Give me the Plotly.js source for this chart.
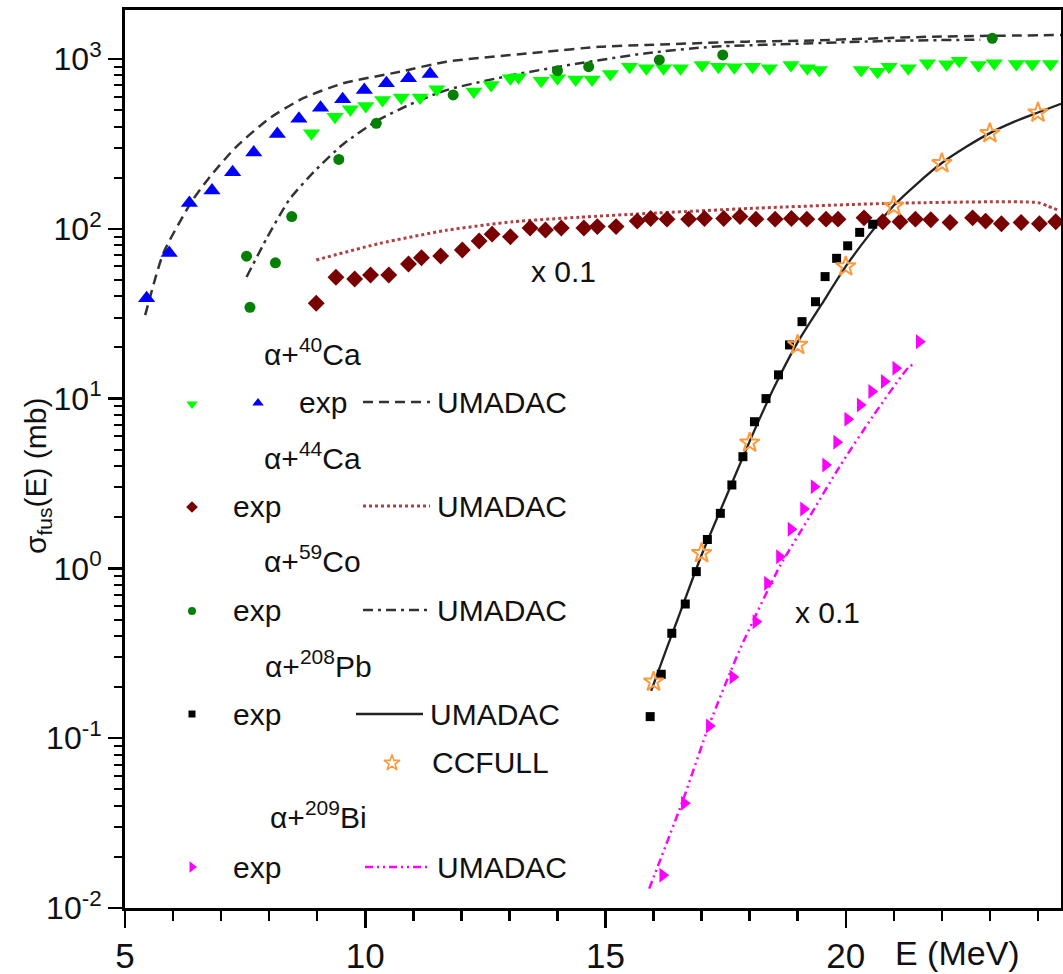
<!DOCTYPE html>
<html><head><meta charset="utf-8">
<script src="https://cdn.plot.ly/plotly-3.0.1.min.js"></script>
<style>html,body{margin:0;padding:0;background:#fff;} #chart{width:1063px;height:974px;}</style>
</head><body><div id="chart"></div>
<script>
// ---------------- DATA ----------------
// alpha + 40Ca (exp, two data sets) and UMADAC
const ca40ExpDownE = [8.88, 9.37, 9.69, 10.01, 10.36, 10.75, 11.14, 11.49, 12.26, 12.62, 13.02, 13.19, 13.66, 14.0, 14.38, 14.72, 15.1, 15.5, 15.85, 16.21, 16.56, 17.01, 17.35, 17.68, 18.06, 18.41, 18.86, 19.2, 19.45, 20.32, 20.66, 20.9, 21.3, 21.7, 22.1, 22.36, 22.76, 23.09, 23.55, 23.88, 24.26];
const ca40ExpDownS = [365, 457, 506, 528, 573, 594, 594, 664, 643, 703, 770, 780, 745, 770, 758, 758, 816, 901, 881, 881, 881, 922, 901, 893, 901, 881, 922, 881, 861, 861, 841, 901, 881, 944, 931, 977, 922, 944, 935, 935, 935];
const ca40ExpUpE = [5.45, 5.92, 6.34, 6.81, 7.24, 7.68, 8.17, 8.62, 9.07, 9.53, 9.98, 10.44, 10.9, 11.35];
const ca40ExpUpS = [39, 72, 142, 168, 215, 281, 362, 444, 517, 579, 656, 720, 770, 816];
const ca40ThE = [5.42, 5.8, 6.39, 6.77, 7.32, 8.01, 8.71, 9.54, 10.72, 11.69, 13.77, 14.88, 15.85, 17.93, 19.04, 21.8, 24.48];
const ca40ThS = [31, 72, 145, 203, 305, 448, 588, 719, 841, 964, 1104, 1181, 1209, 1265, 1280, 1353, 1384];

// alpha + 44Ca (values x 0.1)
const ca44ExpE = [8.98, 9.39, 9.78, 10.11, 10.49, 10.9, 11.17, 11.57, 12.02, 12.37, 12.64, 13.02, 13.43, 13.75, 14.08, 14.55, 14.83, 15.22, 15.66, 15.94, 16.28, 16.73, 17.06, 17.46, 17.8, 18.13, 18.53, 18.87, 19.19, 19.59, 19.84, 20.38, 20.77, 21.13, 21.45, 21.77, 22.17, 22.64, 22.91, 23.24, 23.65, 24.03, 24.37];
const ca44ExpS = [36.4, 51.8, 50.6, 53.5, 53.5, 62, 67.6, 69.2, 75, 84.7, 93, 89.8, 101, 98.4, 101, 101, 103, 103, 111, 115, 114, 114, 115, 115, 118, 114, 114, 115, 114, 114, 114, 116, 110, 110, 114, 113, 109, 116, 111, 107, 109, 107, 110];
const ca44ThE = [8.98, 10.3, 11.69, 13.07, 14.46, 15.85, 18.06, 20.83, 24.0, 24.2, 24.45];
const ca44ThS = [65.5, 82, 98, 110, 117, 123, 132, 141, 142.6, 136, 128];

// alpha + 59Co
const co59ExpE = [7.53, 7.60, 8.13, 8.47, 9.45, 10.23, 11.83, 14.0, 14.65, 16.12, 17.44, 23.05];
const co59ExpS = [69, 34.5, 63, 118, 256, 418, 614, 854, 901, 987, 1056, 1324];
const co59ThE = [7.53, 7.95, 8.43, 8.99, 9.54, 10.23, 10.93, 11.69, 13.07, 14.46, 15.85, 17.23, 19.04, 21.0, 22.8];
const co59ThS = [52, 88, 150, 225, 315, 430, 540, 656, 805, 944, 1081, 1181, 1230, 1280, 1300];

// alpha + 208Pb
const pb208ExpE = [15.93, 16.16, 16.38, 16.66, 16.89, 17.12, 17.39, 17.63, 17.86, 18.1, 18.34, 18.6, 18.83, 19.09, 19.37, 19.57, 19.81, 20.04, 20.29, 20.56];
const pb208ExpS = [0.134, 0.238, 0.415, 0.617, 0.957, 1.48, 2.11, 3.1, 4.55, 7.31, 10.0, 13.8, 20.7, 28.4, 37.2, 52.3, 67, 79.4, 95.3, 106.4];
const pb208ThE = [15.95, 16.26, 16.5, 17.0, 17.5, 18.0, 18.5, 19.0, 19.5, 20.0, 20.5, 21.0, 21.5, 22.0, 22.5, 23.0, 23.5, 24.0, 24.48];
const pb208ThS = [0.19, 0.33, 0.5, 1.2, 2.6, 5.6, 11.5, 21.5, 36, 60, 93, 137, 186, 244, 303, 366, 426, 484, 545];
const pb208CcE = [16, 17, 18, 19, 20, 21, 22, 23, 24];
const pb208CcS = [0.215, 1.23, 5.5, 20.7, 60, 136, 243, 365, 483];

// alpha + 209Bi (values x 0.1)
const bi209ExpE = [16.19, 16.64, 17.16, 17.65, 18.13, 18.37, 18.62, 18.86, 19.12, 19.34, 19.58, 19.81, 20.04, 20.3, 20.54, 20.8, 21.04, 21.53];
const bi209ExpS = [0.0156, 0.0414, 0.118, 0.229, 0.485, 0.817, 1.17, 1.70, 2.24, 3.03, 4.06, 5.53, 7.55, 9.17, 11.0, 12.6, 15.1, 21.6];
const bi209ThE = [15.91, 16.61, 17.16, 17.79, 18.62, 19.24, 19.87, 20.56, 21.32, 21.46];
const bi209ThS = [0.013, 0.043, 0.12, 0.33, 1.02, 2.0, 3.97, 7.83, 15.4, 16.1];

// ticks
const xTickVals = [5, 10, 15, 20];
const xTickText = ['5', '10', '15', '20'];
const yTickVals = [0.01, 0.1, 1, 10, 100, 1000];
const yTickText = ['10<sup>-2</sup>', '10<sup>-1</sup>', '10<sup>0</sup>', '10<sup>1</sup>', '10<sup>2</sup>', '10<sup>3</sup>'];

// texts
const reactionLabels = ['α+<sup>40</sup>Ca', 'α+<sup>44</sup>Ca', 'α+<sup>59</sup>Co', 'α+<sup>208</sup>Pb', 'α+<sup>209</sup>Bi'];
const scaleNote = 'x 0.1';
const xTitle = 'E (MeV)';
const yTitle = 'σ<sub>fus</sub>(E) (mb)';

// ---------------- STYLE ----------------
const FONT = '"Liberation Sans", Arial, sans-serif';
const INK = '#111111';
const C = {lime: '#00ff00', blue: '#0000ff', maroon: '#780000', green: '#058005', black: '#000000',
           orange: '#ff9a3c', magenta: '#ff00ff', dash: '#333333', dot: '#b04040'};

const W = 1063, H = 974;
const M = {l: 125, r: 2, t: 10, b: 66};
const PW = W - M.l - M.r, PH = H - M.t - M.b;
const X0 = 5, PXPERX = 48.05;
const xMax = X0 + PW / PXPERX;
const yTop = 3 + (59 - M.t) / 169.8;

function sc(x, y, sym, color, size) {
  return {x: x, y: y, type: 'scatter', mode: 'markers', showlegend: false, hoverinfo: 'skip',
    marker: {symbol: sym, color: color, size: size, line: {width: 0}}};
}
function ln(x, y, color, dash, width) {
  return {x: x, y: y, type: 'scatter', mode: 'lines', showlegend: false, hoverinfo: 'skip',
    line: {color: color, dash: dash, width: width, shape: 'spline', smoothing: 0.6}};
}

const DASH40 = '10px,6px';
const DOT44 = '3px,3px';
const DASHDOT59 = '10px,5px,3px,5px';
const DDD209 = '8px,4px,2px,4px,2px,4px';

const traces = [
  ln(ca40ThE, ca40ThS, C.dash, DASH40, 2.5),
  ln(co59ThE, co59ThS, C.dash, DASHDOT59, 2.5),
  ln(ca44ThE, ca44ThS, C.dot, DOT44, 3),
  ln(pb208ThE, pb208ThS, '#222222', 'solid', 2.3),
  ln(bi209ThE, bi209ThS, C.magenta, DDD209, 2.5),
  sc(ca40ExpUpE, ca40ExpUpS, 'triangle-up', C.blue, 15),
  sc(ca40ExpDownE, ca40ExpDownS, 'triangle-down', C.lime, 15),
  sc(co59ExpE, co59ExpS, 'circle', C.green, 11),
  sc(ca44ExpE, ca44ExpS, 'diamond', C.maroon, 13),
  sc(pb208ExpE, pb208ExpS, 'square', C.black, 9),
  sc(pb208CcE, pb208CcS, 'star-open', C.orange, 15),
  sc(bi209ExpE, bi209ExpS, 'triangle-right', C.magenta, 13)
];
traces[10].marker.line = {width: 2, color: C.orange};

// ---------------- LEGEND (overlay pixel axes; sample glyphs, not data) ----------------
const legMarkers = [
  {px: 192, py: 404, sym: 'triangle-down', color: C.lime, size: 10},
  {px: 258, py: 403, sym: 'triangle-up', color: C.blue, size: 10},
  {px: 192, py: 507, sym: 'diamond', color: C.maroon, size: 9},
  {px: 192, py: 611, sym: 'circle', color: C.green, size: 8},
  {px: 192, py: 714, sym: 'square', color: C.black, size: 7},
  {px: 392, py: 763, sym: 'star-open', color: C.orange, size: 12},
  {px: 192, py: 867, sym: 'triangle-right', color: C.magenta, size: 10}
];
const legLines = [
  {x0: 363, x1: 430, py: 402, color: C.dash, dash: DASH40, width: 2.5},
  {x0: 363, x1: 430, py: 506, color: C.dot, dash: DOT44, width: 3},
  {x0: 363, x1: 430, py: 610, color: C.dash, dash: DASHDOT59, width: 2.5},
  {x0: 356, x1: 423, py: 714, color: '#222222', dash: 'solid', width: 2.3},
  {x0: 365, x1: 428, py: 867, color: C.magenta, dash: DDD209, width: 2.5}
];
legMarkers.forEach(function (m) {
  traces.push({x: [m.px], y: [m.py], xaxis: 'x2', yaxis: 'y2', type: 'scatter', mode: 'markers', showlegend: false,
    hoverinfo: 'skip', marker: {symbol: m.sym, color: m.color, size: m.size,
      line: m.sym === 'star-open' ? {width: 1.6, color: m.color} : {width: 0}}});
});
legLines.forEach(function (l) {
  traces.push({x: [l.x0, l.x1], y: [l.py, l.py], xaxis: 'x2', yaxis: 'y2', type: 'scatter', mode: 'lines',
    showlegend: false, hoverinfo: 'skip', line: {color: l.color, dash: l.dash, width: l.width}});
});

const legTexts = [
  {t: reactionLabels[0], px: 312, py: 352},
  {t: 'exp', px: 323, py: 402},
  {t: 'UMADAC', px: 502, py: 402},
  {t: reactionLabels[1], px: 312, py: 456},
  {t: 'exp', px: 257, py: 506},
  {t: 'UMADAC', px: 502, py: 506},
  {t: reactionLabels[2], px: 312, py: 559},
  {t: 'exp', px: 257, py: 610},
  {t: 'UMADAC', px: 502, py: 610},
  {t: reactionLabels[3], px: 318, py: 664},
  {t: 'exp', px: 257, py: 714},
  {t: 'UMADAC', px: 495, py: 714},
  {t: 'CCFULL', px: 490, py: 762},
  {t: reactionLabels[4], px: 318, py: 815},
  {t: 'exp', px: 257, py: 867},
  {t: 'UMADAC', px: 502, py: 867}
];

const annotations = legTexts.map(function (a) {
  return {text: a.t, x: a.px, y: a.py, xref: 'x2', yref: 'y2', showarrow: false, xanchor: 'center', yanchor: 'middle',
    font: {family: FONT, size: 30, color: INK}};
});
annotations.push({text: scaleNote, x: 14.12, y: Math.log10(55.7), xref: 'x', yref: 'y', showarrow: false,
  font: {family: FONT, size: 30, color: INK}});
annotations.push({text: scaleNote, x: 19.63, y: Math.log10(0.553), xref: 'x', yref: 'y', showarrow: false,
  font: {family: FONT, size: 30, color: INK}});
// axis titles, placed as in the reference (x title to the right of the last tick label)
annotations.push({text: xTitle, x: (957 - M.l) / PW, y: (H - M.b - 953) / PH,
  xref: 'paper', yref: 'paper', showarrow: false, xanchor: 'center', yanchor: 'middle',
  font: {family: FONT, size: 34, color: INK}});
annotations.push({text: yTitle, x: (37 - M.l) / PW, y: (H - M.b - 476) / PH, textangle: -90,
  xref: 'paper', yref: 'paper', showarrow: false, xanchor: 'center', yanchor: 'middle',
  font: {family: FONT, size: 30, color: INK}});

// minor ticks
const xMinor = [];
for (let v = 6; v <= 24; v++) if (v % 5 !== 0) xMinor.push(v);
const yMinor = [];
for (let d = -2; d <= 3; d++) for (let k = 2; k <= 9; k++) { const v = k * Math.pow(10, d); if (Math.log10(v) < yTop) yMinor.push(v); }

const layout = {
  width: W, height: H,
  margin: M,
  paper_bgcolor: '#ffffff', plot_bgcolor: '#ffffff',
  showlegend: false,
  font: {family: FONT, color: INK},
  xaxis: {
    range: [X0, xMax], showgrid: false, zeroline: false,
    showline: true, linecolor: '#000', linewidth: 3, mirror: true,
    ticks: 'outside', ticklen: 17, tickwidth: 2.5, tickcolor: '#000',
    tickmode: 'array', tickvals: xTickVals, ticktext: xTickText,
    tickfont: {family: FONT, size: 35, color: INK}, ticklabelstandoff: -2,
    minor: {tickmode: 'array', tickvals: xMinor, ticks: 'outside', ticklen: 10, tickwidth: 2.5, tickcolor: '#000', showgrid: false},
    automargin: false
  },
  yaxis: {
    type: 'log', range: [-2, yTop], showgrid: false, zeroline: false,
    showline: true, linecolor: '#000', linewidth: 3, mirror: true,
    ticks: 'outside', ticklen: 14, tickwidth: 2.5, tickcolor: '#000',
    tickmode: 'array', tickvals: yTickVals, ticktext: yTickText,
    tickfont: {family: FONT, size: 32, color: INK},
    minor: {tickmode: 'array', tickvals: yMinor, ticks: 'outside', ticklen: 8, tickwidth: 2, tickcolor: '#000', showgrid: false},
    automargin: false
  },
  xaxis2: {overlaying: 'x', anchor: 'y2', range: [M.l, W - M.r], visible: false, fixedrange: true},
  yaxis2: {overlaying: 'y', anchor: 'x2', range: [H - M.b, M.t], visible: false, fixedrange: true},
  annotations: annotations
};

Plotly.newPlot('chart', traces, layout, {staticPlot: true, displayModeBar: false});
</script></body></html>
